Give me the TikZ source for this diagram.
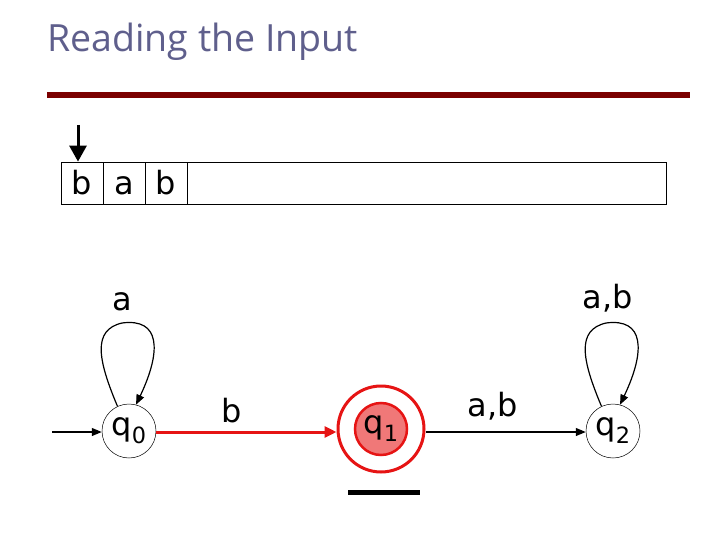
\documentclass[tikz,border=0pt]{standalone}
\usepackage{fontspec}
\setmainfont{DejaVu Sans}
\newfontfamily\titlefont{Open Sans}
\usetikzlibrary{arrows.meta}
\definecolor{titlecol}{RGB}{95,95,140}
\definecolor{rulecol}{RGB}{123,0,0}
\definecolor{redc}{RGB}{230,20,20}
\definecolor{fillred}{RGB}{240,120,120}
\begin{document}
\begin{tikzpicture}[x=1pt,y=-1pt,
  lbl/.style={font=\fontsize{32}{34}\selectfont, inner sep=0pt},
  state/.style={circle, draw=black, line width=0.5pt, minimum size=54pt, inner sep=0pt, font=\fontsize{32}{34}\selectfont, text height=17pt, text depth=8pt},
  edge/.style={line width=1.2pt, -{Triangle[length=10pt,width=8pt]}},
  cell/.style={draw=black, line width=0.8pt, minimum width=42pt, minimum height=42pt, inner sep=0pt, font=\fontsize{32}{34}\selectfont, text height=24pt, text depth=1pt}]
\useasboundingbox (0,0) rectangle (720,540);
\node[titlecol, anchor=base west, font=\titlefont\fontsize{37.5}{40}\selectfont, inner sep=0pt] (title) at (47,52) {Reading the Input};
\draw[rulecol, line width=6pt] (47,95) -- (690,95);
% tape
\node[draw=black, line width=0.8pt, minimum width=605pt, minimum height=42pt, inner sep=0pt] (tape) at (363.5,183) {};
\node[cell] (c1) at (82,183) {b};
\node[cell] (c2) at (124,183) {a};
\node[cell] (c3) at (166,183) {b};
\coordinate (headtop) at (78,125);
\draw[line width=3pt, -{Triangle[length=16pt,width=17pt]}] (headtop) -- (c1.north -| headtop);
% states
\node[state] (q0) at (129,431) {q\textsubscript{0}};
\node[circle, draw=redc, line width=3pt, minimum size=86pt, inner sep=0pt] (q1o) at (381,429) {};
\node[state, draw=redc, line width=2.5pt, fill=fillred, minimum size=52pt] (q1) at (381,429) {q\textsubscript{1}};
\node[state] (q2) at (613,431) {q\textsubscript{2}};
\coordinate (start) at (52,432);
\draw[edge] (start) -- (q0.west |- start);
\draw[edge, redc, line width=3pt, -{Triangle[length=12pt,width=11pt]}] (q0.east |- 0,432) -- (q1o.west |- 0,432);
\draw[edge] (q1o.east |- 0,432) -- (q2.west |- 0,432);
\node[lbl] (lb) at (232,411) {b};
\node[lbl] (lab) at (493,406) {a,b};
% loops
\draw[edge] (q0.115) .. controls (98,360) and (92,330) .. (122,323) .. controls (160,318) and (162,350) .. (q0.75);
\node[lbl] (la) at (122,302) {a};
\draw[edge] (q2.115) .. controls (582,360) and (576,330) .. (606,323) .. controls (644,318) and (646,350) .. (q2.75);
\node[lbl] (lab2) at (608,298) {a,b};
% bar
\draw[line width=5pt] (348,492) -- (420,492);
\end{tikzpicture}
\end{document}
